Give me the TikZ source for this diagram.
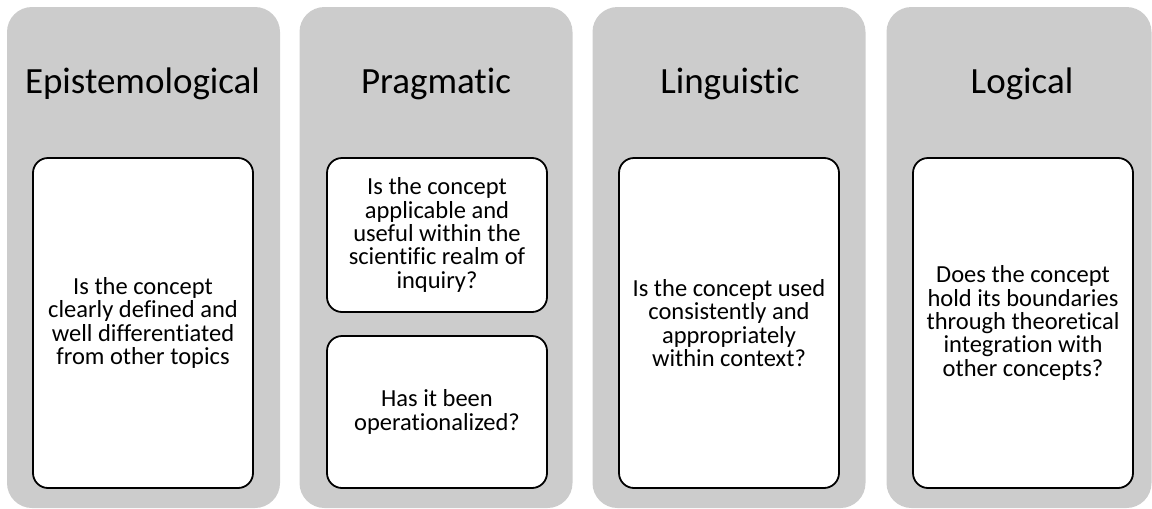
\documentclass[tikz,border=0pt]{standalone}
\usepackage{fontspec}
\setmainfont{Carlito}[Ligatures=NoCommon]
\definecolor{panelgray}{HTML}{CCCCCC}

\begin{document}
\begin{tikzpicture}[x=1pt,y=-1pt,
  panel/.style={fill=panelgray, rounded corners=25pt, minimum width=273pt, minimum height=501pt, inner sep=0pt},
  heading/.style={anchor=base, inner sep=0pt, font=\fontsize{37}{44}\selectfont},
  card/.style={draw, line width=1.8pt, fill=white, rounded corners=15pt, minimum width=220pt, align=center, inner sep=0pt, font=\fontsize{24.5}{23.3}\selectfont}]
\useasboundingbox (0,0) rectangle (1152,509);
\node[panel] (p1) at (143.5,257.5) {};
\node[panel] (p2) at (436,257.5) {};
\node[panel] (p3) at (729,257.5) {};
\node[panel, minimum width=265pt] (p4) at (1019,257.5) {};
\node[heading] (t1) at (142.5,93) {Epistemological};
\node[heading] (t2) at (436,93) {Pragmatic};
\node[heading] (t3) at (730,93) {Linguistic};
\node[heading] (t4) at (1022,93) {Logical};
\node[card, minimum height=330pt] (c1) at (143,323) {Is the concept\\clearly defined and\\well differentiated\\from other topics};
\node[card, minimum height=154pt] (c2) at (437,235) {Is the concept\\applicable and\\useful within the\\scientific realm of\\inquiry?};
\node[card, minimum height=152pt] (c3) at (437,412) {Has it been\\operationalized?};
\node[card, minimum height=330pt] (c4) at (729,323) {Is the concept used\\consistently and\\appropriately\\within context?};
\node[card, minimum height=330pt] (c5) at (1023,323) {Does the concept\\hold its boundaries\\through theoretical\\integration with\\other concepts?};
\end{tikzpicture}
\end{document}
